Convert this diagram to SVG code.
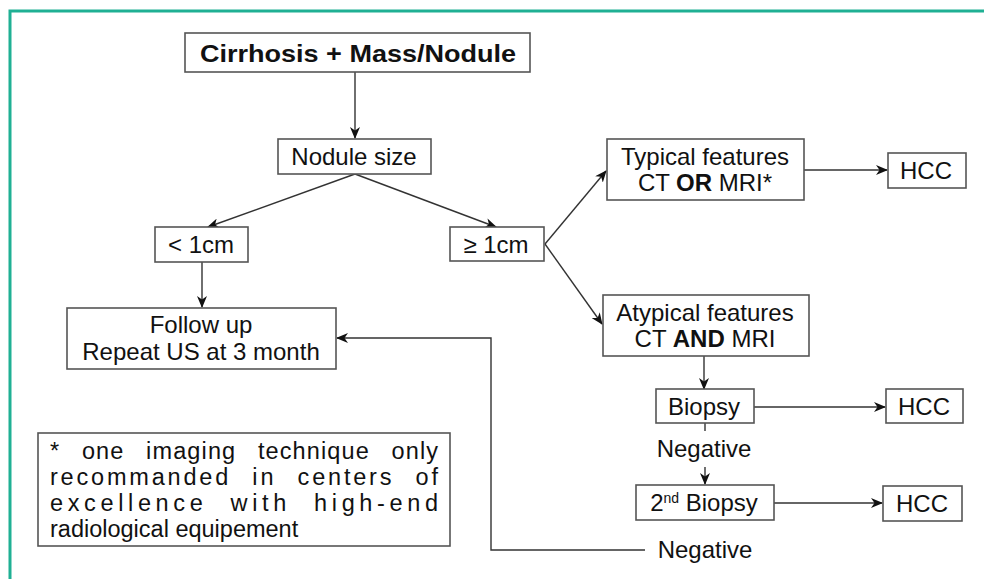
<svg xmlns="http://www.w3.org/2000/svg" width="984" height="579" viewBox="0 0 984 579">
<defs>
<style>
.box{fill:#fff;stroke:#555;stroke-width:1.6}
.t{font-family:"Liberation Sans",Arial,sans-serif;font-size:24px;fill:#111;text-anchor:middle}
.b{font-weight:bold}
.fn{font-family:"Liberation Sans",Arial,sans-serif;font-size:23.5px;fill:#111}
.c{fill:none;stroke:#333;stroke-width:1.4}
</style>
<marker id="ah" viewBox="0 0 12 10" refX="11" refY="5" markerWidth="12" markerHeight="10" markerUnits="userSpaceOnUse" orient="auto">
<path d="M0,0 L12,5 L0,10 L3.5,5 z" fill="#111"/>
</marker>
</defs>
<rect width="984" height="579" fill="#fff"/>
<path d="M10,579 V11 H984" fill="none" stroke="#1fb094" stroke-width="3"/>

<g id="connectors">
<line class="c" x1="355" y1="72" x2="355" y2="138" marker-end="url(#ah)"/>
<line class="c" x1="355" y1="174" x2="208" y2="227" marker-end="url(#ah)"/>
<line class="c" x1="355" y1="174" x2="496" y2="227" marker-end="url(#ah)"/>
<line class="c" x1="202" y1="262" x2="202" y2="307" marker-end="url(#ah)"/>
<line class="c" x1="545" y1="244" x2="606" y2="171" marker-end="url(#ah)"/>
<line class="c" x1="545" y1="244" x2="602" y2="324" marker-end="url(#ah)"/>
<line class="c" x1="804" y1="170" x2="887" y2="170" marker-end="url(#ah)"/>
<line class="c" x1="704" y1="356" x2="704" y2="389" marker-end="url(#ah)"/>
<line class="c" x1="754" y1="407" x2="885" y2="407" marker-end="url(#ah)"/>
<line class="c" x1="705" y1="423" x2="705" y2="431"/>
<line class="c" x1="705" y1="467" x2="705" y2="484" marker-end="url(#ah)"/>
<line class="c" x1="774" y1="503" x2="882" y2="503" marker-end="url(#ah)"/>
<polyline class="c" points="645,550 491,550 491,338 337,338" marker-end="url(#ah)"/>
</g>

<g id="n-cirrhosis">
<rect class="box" x="185" y="33" width="345" height="39"/>
<text class="t b" x="358" y="62" font-size="25" textLength="316" lengthAdjust="spacingAndGlyphs">Cirrhosis + Mass/Nodule</text>
</g>
<g id="n-size">
<rect class="box" x="278" y="139" width="153" height="35"/>
<text class="t" x="354" y="165">Nodule size</text>
</g>
<g id="n-lt1">
<rect class="box" x="155" y="227" width="93" height="35"/>
<text class="t" x="201" y="253">&lt; 1cm</text>
</g>
<g id="n-ge1">
<rect class="box" x="450" y="227" width="94" height="34"/>
<text class="t" x="496" y="253">≥ 1cm</text>
</g>
<g id="n-typical">
<rect class="box" x="607" y="139" width="197" height="61"/>
<text class="t" x="705" y="165">Typical features</text>
<text class="t" x="705" y="191">CT <tspan class="b">OR</tspan> MRI*</text>
</g>
<g id="n-hcc1">
<rect class="box" x="888" y="153" width="78" height="35"/>
<text class="t" x="926" y="179">HCC</text>
</g>
<g id="n-atypical">
<rect class="box" x="603" y="295" width="206" height="61"/>
<text class="t" x="705" y="321">Atypical features</text>
<text class="t" x="705" y="347">CT <tspan class="b">AND</tspan> MRI</text>
</g>
<g id="n-biopsy">
<rect class="box" x="656" y="389" width="98" height="34"/>
<text class="t" x="704" y="415">Biopsy</text>
</g>
<g id="n-hcc2">
<rect class="box" x="886" y="389" width="77" height="34"/>
<text class="t" x="924" y="415">HCC</text>
</g>
<g id="l-negative1">
<text class="t" x="704" y="457">Negative</text>
</g>
<g id="n-biopsy2">
<rect class="box" x="636" y="485" width="138" height="35"/>
<text class="t" x="704" y="511">2<tspan font-size="14" dy="-8">nd</tspan><tspan dy="8"> Biopsy</tspan></text>
</g>
<g id="n-hcc3">
<rect class="box" x="883" y="486" width="79" height="35"/>
<text class="t" x="922" y="512">HCC</text>
</g>
<g id="l-negative2">
<text class="t" x="705" y="558">Negative</text>
</g>
<g id="n-followup">
<rect class="box" x="67" y="308" width="269" height="61"/>
<text class="t" x="201" y="333">Follow up</text>
<text class="t" x="201" y="360">Repeat US at 3 month</text>
</g>
<g id="n-footnote">
<rect class="box" x="38" y="433" width="412" height="113"/>
<text class="fn" x="50" y="459" textLength="388" lengthAdjust="spacing" word-spacing="14">* one imaging technique only</text>
<text class="fn" x="50" y="485" textLength="388" lengthAdjust="spacing" word-spacing="12">recommanded in centers of</text>
<text class="fn" x="50" y="511" textLength="388" lengthAdjust="spacing" word-spacing="12">excellence with high-end</text>
<text class="fn" x="50" y="537">radiological equipement</text>
</g>
</svg>
